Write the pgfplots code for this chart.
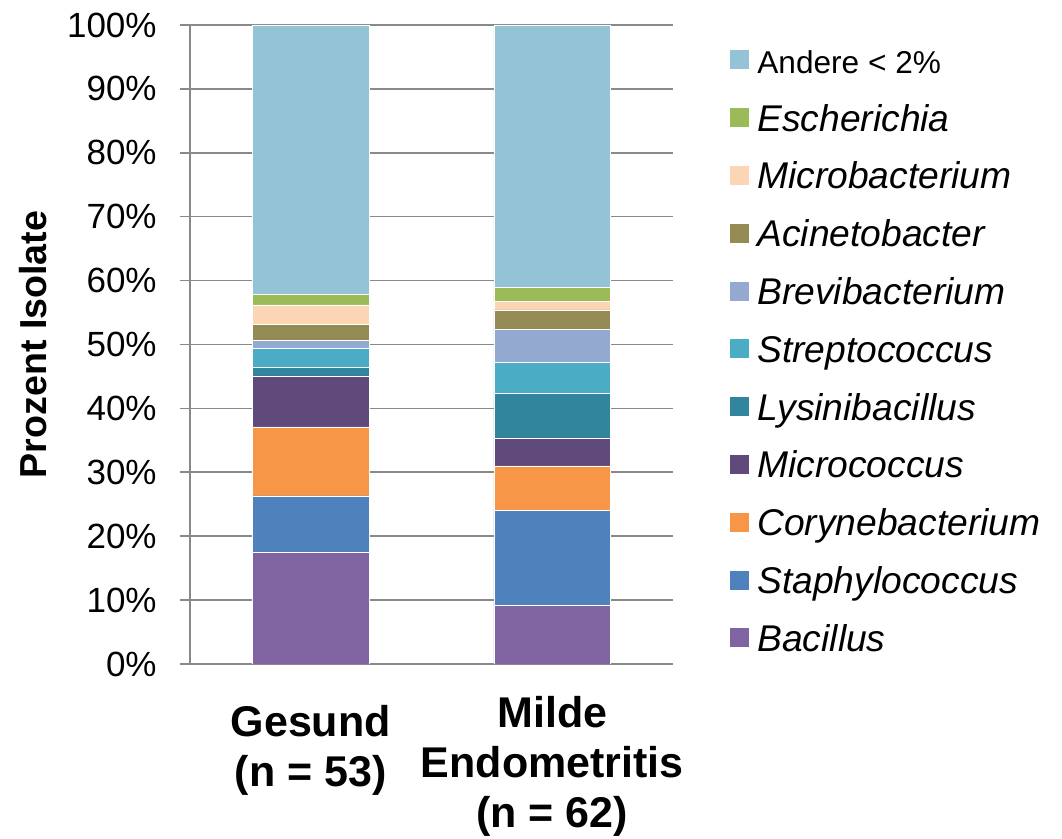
\documentclass[border=0pt]{standalone}
\usepackage{fontspec}
\setmainfont{Liberation Sans}
\usepackage{pgfplots}
\pgfplotsset{compat=1.18}
\definecolor{cBac}{HTML}{8064A2}
\definecolor{cSta}{HTML}{4F81BD}
\definecolor{cCor}{HTML}{F79646}
\definecolor{cMic}{HTML}{604A7B}
\definecolor{cLys}{HTML}{31859C}
\definecolor{cStr}{HTML}{4BACC6}
\definecolor{cBre}{HTML}{93A9D0}
\definecolor{cAci}{HTML}{948A54}
\definecolor{cMib}{HTML}{FCD5B5}
\definecolor{cEsc}{HTML}{9BBB59}
\definecolor{cAnd}{HTML}{93C3D5}
\definecolor{gridgray}{HTML}{898989}
\begin{document}
\begin{tikzpicture}
\begin{axis}[
  at={(0,0)}, anchor=south west,
  scale only axis, width=241.5pt, height=319.5pt,
  ybar stacked, bar width=58.3pt,
  legend image code/.code={\fill[#1,draw=none] (0pt,-2.8pt) rectangle (9.5pt,6.7pt);},
  xmin=-0.5, xmax=1.5, ymin=0, ymax=100,
  axis x line=bottom, axis y line=left,
  axis line style={-, draw=gridgray, line width=0.8pt},
  xtick=data, xtick style={draw=none},
  xticklabels={{\rule{0pt}{20pt}Gesund\\(n = 53)},{Milde\\Endometritis\\(n = 62)}},
  xticklabel style={align=center, anchor=north, inner sep=0pt, yshift=-11pt,
    font=\fontsize{21.5}{25}\selectfont\bfseries},
  ytick={0,10,...,100},
  yticklabel={\pgfmathprintnumber{\tick}\%},
  /pgf/number format/assume math mode=true,
  yticklabel style={anchor=east, inner sep=0pt, xshift=-11.5pt, font=\fontsize{17.5}{20}\selectfont},
  tick align=outside, major tick length=5pt,
  ytick style={draw=gridgray, line width=0.8pt},
  ymajorgrids, grid style={draw=gridgray, line width=0.8pt},
  ylabel={Prozent Isolate},
  ylabel style={at={([xshift=-78.5pt]axis description cs:0,0.5)}, anchor=center, inner sep=0pt,
    font=\fontsize{18.8}{21}\selectfont\bfseries},
  reverse legend, legend cell align=left,
  legend style={draw=none, fill=none, at={(0,1)}, anchor=north west,
    xshift=270pt, yshift=-10.5pt, inner sep=0pt, row sep=11.4pt, column sep=4pt,
    nodes={inner sep=0pt, text height=13.5pt, text depth=4pt},
    font=\fontsize{18.6}{20}\selectfont},
  every axis plot/.append style={draw=white, line width=0.2pt},
]
\addplot[fill=cBac] coordinates {(0,17.5) (1,9.2)};
\addlegendentry{\textit{Bacillus}}
\addplot[fill=cSta] coordinates {(0,8.8) (1,14.8)};
\addlegendentry{\textit{Staphylococcus}}
\addplot[fill=cCor] coordinates {(0,10.8) (1,7.0)};
\addlegendentry{\textit{Corynebacterium}}
\addplot[fill=cMic] coordinates {(0,8.0) (1,4.4)};
\addlegendentry{\textit{Micrococcus}}
\addplot[fill=cLys] coordinates {(0,1.3) (1,7.0)};
\addlegendentry{\textit{Lysinibacillus}}
\addplot[fill=cStr] coordinates {(0,3.0) (1,4.8)};
\addlegendentry{\textit{Streptococcus}}
\addplot[fill=cBre] coordinates {(0,1.2) (1,5.2)};
\addlegendentry{\textit{Brevibacterium}}
\addplot[fill=cAci] coordinates {(0,2.6) (1,3.0)};
\addlegendentry{\textit{Acinetobacter}}
\addplot[fill=cMib] coordinates {(0,3.0) (1,1.4)};
\addlegendentry{\textit{Microbacterium}}
\addplot[fill=cEsc] coordinates {(0,1.7) (1,2.1)};
\addlegendentry{\textit{Escherichia}}
\addplot[fill=cAnd] coordinates {(0,42.1) (1,41.1)};
\addlegendentry{{\fontsize{15.8}{18}\selectfont Andere < 2\%}}
\end{axis}
\pgfresetboundingbox
\path[use as bounding box] (-95pt,-87.5pt) rectangle (436pt,332pt);
\end{tikzpicture}
\end{document}
